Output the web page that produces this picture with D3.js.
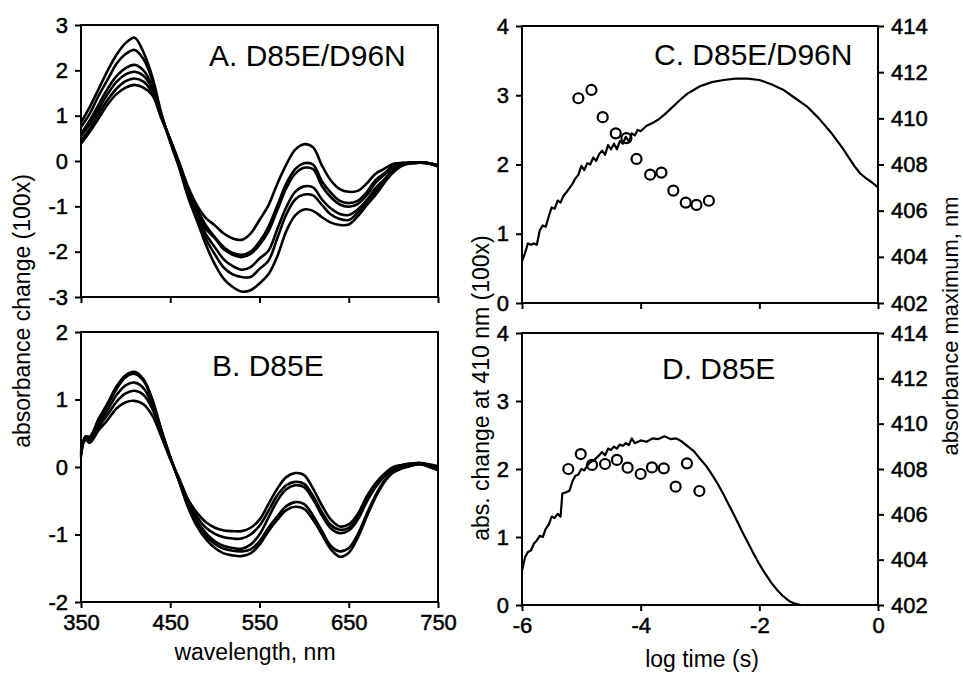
<!DOCTYPE html>
<html><head><meta charset="utf-8">
<script src="https://cdn.jsdelivr.net/npm/d3@7"></script>
<style>
body{margin:0;background:#fff}
svg{display:block}
text{font-family:"Liberation Sans",Arial,Helvetica,sans-serif;fill:#000}
</style>
</head><body>
<svg id="chart" width="963" height="673"></svg>
<script>
// ---------- data ----------
const wavelengthsA = [350,360,370,380,390,400,410,420,430,440,450,460,470,480,490,500,510,520,530,540,550,560,570,580,590,600,610,620,630,640,650,660,670,680,690,700,710,720,730,740,750];
const specA1 = [0.85,1.2,1.6,2.0,2.35,2.6,2.72,2.4,1.85,1.05,0.42,-0.15,-0.8,-1.32,-1.85,-2.28,-2.6,-2.78,-2.88,-2.85,-2.7,-2.5,-2.1,-1.55,-1.2,-1.07,-1.1,-1.24,-1.36,-1.41,-1.4,-1.22,-0.98,-0.75,-0.48,-0.25,-0.1,-0.05,-0.04,-0.06,-0.12];
const specA2 = [0.75,1.05,1.45,1.8,2.15,2.36,2.45,2.25,1.78,1.03,0.43,-0.12,-0.74,-1.24,-1.72,-2.06,-2.35,-2.5,-2.56,-2.56,-2.38,-2.2,-1.7,-1.18,-0.85,-0.74,-0.76,-0.97,-1.18,-1.28,-1.3,-1.14,-0.92,-0.68,-0.45,-0.2,-0.09,-0.05,-0.04,-0.05,-0.11];
const specA3 = [0.6,0.9,1.25,1.6,1.88,2.05,2.12,2.0,1.65,1.0,0.45,-0.1,-0.7,-1.18,-1.62,-1.9,-2.17,-2.32,-2.4,-2.34,-2.15,-1.98,-1.5,-1.02,-0.68,-0.56,-0.58,-0.85,-1.05,-1.17,-1.19,-1.07,-0.87,-0.6,-0.4,-0.17,-0.08,-0.05,-0.04,-0.05,-0.1];
const specA4 = [0.55,0.82,1.15,1.48,1.75,1.91,1.97,1.88,1.58,0.98,0.46,-0.08,-0.65,-1.1,-1.5,-1.7,-1.95,-2.07,-2.12,-2.05,-1.85,-1.55,-1.08,-0.6,-0.28,-0.15,-0.18,-0.55,-0.8,-0.96,-1.01,-0.95,-0.76,-0.48,-0.3,-0.12,-0.06,-0.04,-0.03,-0.05,-0.1];
const specA5 = [0.45,0.72,1.05,1.35,1.6,1.76,1.82,1.75,1.5,0.96,0.47,-0.06,-0.62,-1.05,-1.42,-1.68,-1.9,-2.03,-2.07,-2.0,-1.78,-1.45,-0.98,-0.5,-0.18,-0.05,-0.08,-0.45,-0.7,-0.88,-0.93,-0.88,-0.69,-0.42,-0.27,-0.1,-0.06,-0.04,-0.03,-0.05,-0.1];
const specA6 = [0.38,0.65,0.95,1.25,1.48,1.62,1.68,1.62,1.45,0.95,0.48,-0.03,-0.57,-0.98,-1.26,-1.42,-1.6,-1.71,-1.74,-1.6,-1.3,-0.98,-0.5,-0.08,0.25,0.37,0.3,-0.1,-0.43,-0.62,-0.68,-0.66,-0.5,-0.28,-0.17,-0.06,-0.04,-0.03,-0.03,-0.05,-0.09];

const wavelengthsB = [350,355,360,370,380,390,400,410,420,430,440,450,460,470,480,490,500,510,520,530,540,550,560,570,580,590,600,610,620,630,640,650,660,670,680,690,700,710,720,730,740,750];
const specB1 = [0.15,0.45,0.45,0.72,0.95,1.2,1.36,1.41,1.3,1.0,0.55,0.15,-0.22,-0.6,-0.88,-1.07,-1.2,-1.28,-1.31,-1.32,-1.28,-1.15,-0.95,-0.78,-0.64,-0.59,-0.62,-0.78,-1.0,-1.22,-1.33,-1.27,-1.05,-0.74,-0.45,-0.22,-0.08,-0.02,0.02,0.04,0.0,-0.05];
const specB2 = [0.2,0.45,0.43,0.7,0.92,1.16,1.33,1.38,1.28,0.98,0.55,0.15,-0.21,-0.58,-0.84,-1.02,-1.14,-1.21,-1.24,-1.25,-1.22,-1.1,-0.9,-0.73,-0.58,-0.52,-0.55,-0.72,-0.95,-1.17,-1.25,-1.2,-1.0,-0.7,-0.42,-0.2,-0.07,-0.01,0.02,0.04,0.02,-0.02];
const specB3 = [0.18,0.42,0.4,0.65,0.85,1.07,1.21,1.25,1.17,0.92,0.52,0.14,-0.2,-0.55,-0.8,-0.98,-1.1,-1.17,-1.2,-1.21,-1.15,-1.0,-0.75,-0.5,-0.33,-0.27,-0.3,-0.48,-0.72,-0.91,-0.98,-0.94,-0.78,-0.52,-0.3,-0.14,-0.03,0.02,0.04,0.05,0.03,-0.01];
const specB4 = [0.22,0.42,0.38,0.6,0.78,0.97,1.09,1.13,1.07,0.86,0.5,0.13,-0.19,-0.52,-0.74,-0.9,-0.99,-1.04,-1.06,-1.06,-1.0,-0.87,-0.65,-0.42,-0.27,-0.22,-0.25,-0.43,-0.67,-0.86,-0.93,-0.9,-0.74,-0.48,-0.27,-0.12,-0.02,0.03,0.05,0.06,0.03,0.0];
const specB5 = [0.25,0.4,0.36,0.55,0.7,0.87,0.96,0.98,0.93,0.76,0.45,0.12,-0.17,-0.48,-0.68,-0.82,-0.9,-0.94,-0.95,-0.95,-0.9,-0.78,-0.55,-0.32,-0.15,-0.09,-0.12,-0.32,-0.57,-0.78,-0.88,-0.85,-0.7,-0.44,-0.24,-0.1,0.0,0.03,0.05,0.06,0.04,0.01];

const logTimeC = [-6.0,-5.95,-5.9,-5.85,-5.8,-5.75,-5.7,-5.65,-5.6,-5.55,-5.5,-5.45,-5.4,-5.35,-5.3,-5.25,-5.2,-5.15,-5.1,-5.05,-5.0,-4.95,-4.9,-4.85,-4.8,-4.75,-4.7,-4.65,-4.6,-4.55,-4.5,-4.45,-4.4,-4.35,-4.3,-4.25,-4.2,-4.15,-4.1,-4.05,-4.0,-3.9,-3.8,-3.7,-3.6,-3.5,-3.4,-3.3,-3.2,-3.1,-3.0,-2.8,-2.6,-2.4,-2.2,-2.0,-1.8,-1.6,-1.4,-1.2,-1.0,-0.8,-0.6,-0.4,-0.3,-0.2,-0.1,0];
const absC = [0.6,0.72,0.86,0.84,0.86,0.84,1.05,1.12,1.1,1.25,1.38,1.36,1.48,1.45,1.55,1.6,1.66,1.72,1.8,1.85,1.98,1.92,2.02,2.0,2.1,2.05,2.15,2.2,2.14,2.28,2.22,2.3,2.22,2.34,2.3,2.4,2.33,2.45,2.42,2.5,2.48,2.56,2.6,2.65,2.72,2.8,2.88,2.96,3.03,3.08,3.13,3.19,3.22,3.24,3.24,3.22,3.16,3.08,2.96,2.84,2.67,2.47,2.24,1.98,1.87,1.8,1.74,1.67];
const maxTimeC = [-5.05,-4.83,-4.64,-4.42,-4.24,-4.07,-3.84,-3.65,-3.45,-3.24,-3.06,-2.85];
const maxNmC = [410.87,411.23,410.05,409.35,409.14,408.24,407.56,407.65,406.87,406.35,406.25,406.43];

const logTimeD = [-6.0,-5.95,-5.9,-5.85,-5.8,-5.75,-5.7,-5.65,-5.6,-5.55,-5.5,-5.45,-5.4,-5.35,-5.32,-5.25,-5.2,-5.15,-5.1,-5.05,-5.0,-4.95,-4.9,-4.85,-4.8,-4.75,-4.7,-4.65,-4.6,-4.55,-4.5,-4.45,-4.4,-4.35,-4.3,-4.25,-4.2,-4.15,-4.1,-4.0,-3.9,-3.8,-3.7,-3.6,-3.5,-3.4,-3.3,-3.2,-3.1,-3.0,-2.9,-2.8,-2.7,-2.6,-2.5,-2.4,-2.3,-2.2,-2.1,-2.0,-1.9,-1.8,-1.7,-1.6,-1.5,-1.4,-1.3];
const absD = [0.5,0.7,0.78,0.8,0.9,0.95,1.02,1.0,1.12,1.18,1.3,1.28,1.34,1.3,1.64,1.66,1.68,1.82,1.9,1.92,2.0,1.98,2.05,2.1,2.12,2.16,2.2,2.25,2.2,2.3,2.28,2.33,2.3,2.36,2.34,2.38,2.35,2.45,2.38,2.42,2.4,2.45,2.44,2.48,2.44,2.45,2.4,2.33,2.26,2.15,2.05,1.92,1.78,1.62,1.45,1.28,1.1,0.93,0.76,0.6,0.46,0.33,0.22,0.13,0.06,0.02,0.0];
const maxTimeD = [-5.22,-5.01,-4.82,-4.6,-4.4,-4.22,-4.0,-3.81,-3.61,-3.41,-3.22,-3.01];
const maxNmD = [408.0,408.66,408.18,408.22,408.4,408.06,407.78,408.07,408.03,407.22,408.25,407.03];

const wlTicks = [350,450,550,650,750];
const yTicksA = [-3,-2,-1,0,1,2,3];
const yTicksB = [-2,-1,0,1,2];
const timeTicks = [-6,-4,-2,0];
const absTicks = [0,1,2,3,4];
const nmTicks = [402,404,406,408,410,412,414];

// ---------- drawing ----------
const svg = d3.select("#chart");
const TICK_FONT = 22, TITLE_FONT = 30, LABEL_FONT = 23;

const xW = d3.scaleLinear([350,750],[81,438]);
const yA = d3.scaleLinear([-3,3],[297,25]);
const yB = d3.scaleLinear([-2,2],[602,332]);
const xT = d3.scaleLinear([-6,0],[522,878]);
const yC = d3.scaleLinear([0,4],[303,26]);
const yCr = d3.scaleLinear([402,414],[303,26]);
const yD = d3.scaleLinear([0,4],[605,333]);
const yDr = d3.scaleLinear([402,414],[605,333]);

const fmt = d => String(d);

function frame(x, y){
  const [x0,x1] = x.range(), [y1,y0] = y.range();
  svg.append("rect").attr("x",x0).attr("y",y0).attr("width",x1-x0).attr("height",y1-y0)
    .attr("fill","none").attr("stroke","#000").attr("stroke-width",2);
}
function styleAxis(g){
  g.select(".domain").remove();
  g.selectAll(".tick line").attr("stroke","#000").attr("stroke-width",2);
  g.selectAll(".tick text").attr("font-size",TICK_FONT).attr("font-family","Liberation Sans, Arial, sans-serif")
    .attr("stroke","#000").attr("stroke-width",0.5);
}
function leftAxis(y, ticks, x0){
  svg.append("g").attr("transform",`translate(${x0},0)`)
    .call(d3.axisLeft(y).tickValues(ticks).tickFormat(fmt).tickSize(6).tickPadding(7)).call(styleAxis);
}
function rightAxis(y, ticks, x1){
  svg.append("g").attr("transform",`translate(${x1},0)`)
    .call(d3.axisRight(y).tickValues(ticks).tickFormat(fmt).tickSize(6).tickPadding(7)).call(styleAxis);
}
function bottomAxis(x, ticks, y0, labels, dx){
  const g = svg.append("g").attr("transform",`translate(0,${y0})`)
    .call(d3.axisBottom(x).tickValues(ticks).tickFormat(labels ? fmt : () => "").tickSize(6).tickPadding(6)).call(styleAxis);
  if (dx) g.selectAll(".tick text").attr("dx", dx);
}

// panel A
frame(xW, yA);
leftAxis(yA, yTicksA, 81);
bottomAxis(xW, wlTicks, 297, false);
const lineA = d3.line().x((d,i)=>xW(wavelengthsA[i])).y(d=>yA(d)).curve(d3.curveCatmullRom.alpha(0.5));
[specA1,specA2,specA3,specA4,specA5,specA6].forEach(s=>{
  svg.append("path").attr("d",lineA(s)).attr("fill","none").attr("stroke","#000").attr("stroke-width",2.6).attr("stroke-linejoin","round");
});
svg.append("text").attr("x",209).attr("y",66).attr("font-size",TITLE_FONT).text("A. D85E/D96N");

// panel B
frame(xW, yB);
leftAxis(yB, yTicksB, 81);
bottomAxis(xW, wlTicks, 602, true, 0);
const lineB = d3.line().x((d,i)=>xW(wavelengthsB[i])).y(d=>yB(d)).curve(d3.curveCatmullRom.alpha(0.5));
[specB1,specB2,specB3,specB4,specB5].forEach(s=>{
  svg.append("path").attr("d",lineB(s)).attr("fill","none").attr("stroke","#000").attr("stroke-width",2.6).attr("stroke-linejoin","round");
});
svg.append("text").attr("x",212).attr("y",376).attr("font-size",TITLE_FONT).text("B. D85E");

// panel C
frame(xT, yC);
leftAxis(yC, absTicks, 522);
rightAxis(yCr, nmTicks, 878);
bottomAxis(xT, timeTicks, 303, false);
const lineC = d3.line().x((d,i)=>xT(logTimeC[i])).y(d=>yC(d));
svg.append("path").attr("d",lineC(absC)).attr("fill","none").attr("stroke","#000").attr("stroke-width",2.2).attr("stroke-linejoin","round");
svg.append("g").selectAll("circle").data(maxNmC).join("circle")
  .attr("cx",(d,i)=>xT(maxTimeC[i])).attr("cy",d=>yCr(d)).attr("r",5)
  .attr("fill","none").attr("stroke","#000").attr("stroke-width",2.2);
svg.append("text").attr("x",654).attr("y",65).attr("font-size",TITLE_FONT).text("C. D85E/D96N");

// panel D
frame(xT, yD);
leftAxis(yD, absTicks, 522);
rightAxis(yDr, nmTicks, 878);
bottomAxis(xT, timeTicks, 605, true, 0);
const lineD = d3.line().x((d,i)=>xT(logTimeD[i])).y(d=>yD(d));
svg.append("path").attr("d",lineD(absD)).attr("fill","none").attr("stroke","#000").attr("stroke-width",2.2).attr("stroke-linejoin","round");
svg.append("g").selectAll("circle").data(maxNmD).join("circle")
  .attr("cx",(d,i)=>xT(maxTimeD[i])).attr("cy",d=>yDr(d)).attr("r",5)
  .attr("fill","none").attr("stroke","#000").attr("stroke-width",2.2);
svg.append("text").attr("x",662).attr("y",379).attr("font-size",TITLE_FONT).text("D. D85E");

// axis titles
function vlabel(x, y, txt, size){
  svg.append("text").attr("transform",`translate(${x},${y}) rotate(-90)`)
    .attr("text-anchor","middle").attr("dominant-baseline","central")
    .attr("font-size",size || LABEL_FONT).text(txt);
}
vlabel(22, 311, "absorbance change (100x)");
vlabel(481, 388, "abs. change at 410 nm (100x)");
vlabel(950, 326, "absorbance maximum, nm", 22);
svg.append("text").attr("x",255).attr("y",660).attr("text-anchor","middle").attr("font-size",LABEL_FONT).text("wavelength, nm");
svg.append("text").attr("x",702).attr("y",667).attr("text-anchor","middle").attr("font-size",LABEL_FONT).text("log time (s)");
</script>
</body></html>
